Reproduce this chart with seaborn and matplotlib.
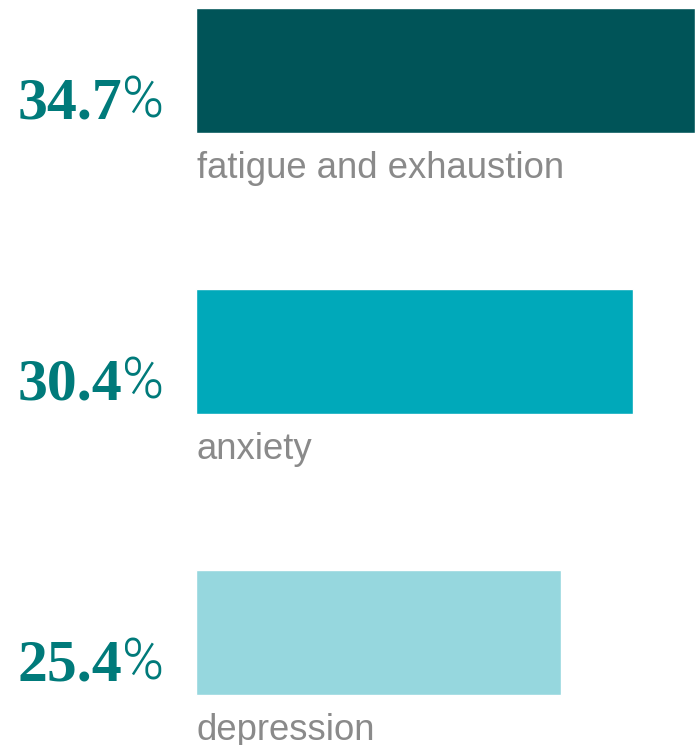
import matplotlib
matplotlib.use("Agg")
import matplotlib.pyplot as plt
import seaborn as sns
import pandas as pd

# Share of respondents reporting each symptom
symptoms = ["fatigue and exhaustion", "anxiety", "depression"]
shares = [34.7, 30.4, 25.4]
bar_colors = ["#005458", "#00A9BA", "#96D7DE"]

value_color = "#007A7A"
label_color = "#8A8A8A"

df = pd.DataFrame({"symptom": symptoms, "share": shares})

sns.set_theme(style="white")
fig = plt.figure(figsize=(6.95, 7.45), dpi=100)
ax = fig.add_axes([196 / 695, 0, 499 / 695, 1])

sns.barplot(data=df, x="share", y="symptom", hue="symptom",
            palette=bar_colors, orient="h", width=0.445,
            legend=False, ax=ax, saturation=1)

ax.set_xlim(0, max(shares))
ax.set_ylim(2.400, -0.251)
ax.axis("off")

for i, (name, val) in enumerate(zip(symptoms, shares)):
    # category name under the bar
    ax.annotate(name, xy=(0, i), xytext=(1, -107), textcoords="offset pixels",
                ha="left", va="baseline", fontsize=26.3, color=label_color,
                family="Liberation Sans", annotation_clip=False)
    # bold value to the left of the bar
    ax.annotate(f"{val:.1f}", xy=(0, i), xytext=(-74, -48), textcoords="offset pixels",
                ha="right", va="baseline", fontsize=43, fontweight="bold",
                color=value_color, family="Liberation Serif", annotation_clip=False)
    ax.annotate("%", xy=(0, i), xytext=(-32, -47), textcoords="offset pixels",
                ha="right", va="baseline", fontsize=41, fontweight=300,
                color=value_color, family="Roboto", annotation_clip=False)

fig.savefig("out.png", dpi=100, facecolor="white")
